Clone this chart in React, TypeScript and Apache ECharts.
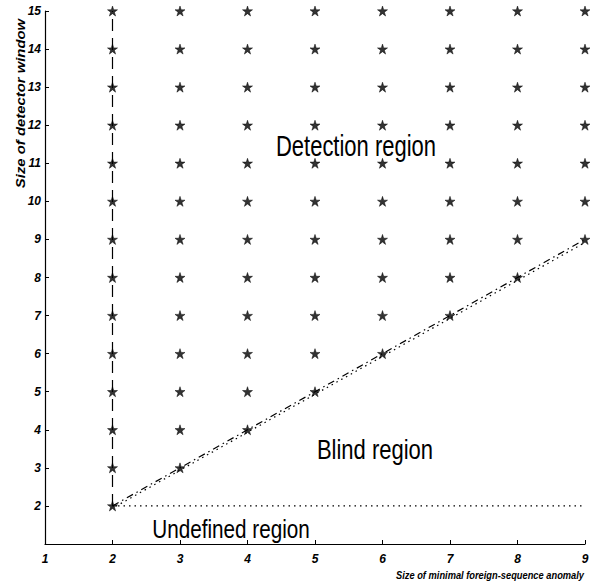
import React, { useEffect, useRef } from "react";
import * as echarts from "echarts";

const anomalySizes = [2, 3, 4, 5, 6, 7, 8, 9];
const windowSizes = [2, 3, 4, 5, 6, 7, 8, 9, 10, 11, 12, 13, 14, 15];
const xTicks = [1, 2, 3, 4, 5, 6, 7, 8, 9];
const yTicks = [1, 2, 3, 4, 5, 6, 7, 8, 9, 10, 11, 12, 13, 14, 15];
const verticalBoundary = [[2, 2], [2, 15]];
const diagonalDashDot = [[2, 2], [9, 9]];
const diagonalDotted = [[2.05, 1.99], [9, 8.92]];
const undefinedBoundary = [[2, 2], [9, 2]];

const STAR =
  "path://M50,0 L61.8,36.2 L100,36.2 L69.1,58.8 L80.9,95.1 L50,72.6 L19.1,95.1 L30.9,58.8 L0,36.2 L38.2,36.2 Z";

export default function App() {
  const ref = useRef<HTMLDivElement>(null);
  useEffect(() => {
    if (!ref.current) return;
    const chart = echarts.init(ref.current, null, { renderer: "svg" });
    const stars: number[][] = [];
    anomalySizes.forEach((a) => {
      windowSizes.forEach((w) => {
        if (w >= a) stars.push([a, w]);
      });
    });
    const labelFont = {
      fontFamily: "Liberation Sans, Arial, sans-serif",
      fontWeight: "bold" as const,
      fontStyle: "italic" as const,
      fontSize: 12,
      color: "#000",
    };
    chart.setOption({
      animation: false,
      backgroundColor: "#fff",
      grid: { left: 45, right: 8, top: 11, bottom: 38 },
      xAxis: {
        type: "value",
        min: xTicks[0],
        max: xTicks[xTicks.length - 1],
        interval: 1,
        splitLine: { show: false },
        axisLine: { show: true, lineStyle: { color: "#000", width: 1.2 } },
        axisTick: { show: true, inside: true, length: 4, lineStyle: { color: "#000" } },
        axisLabel: { ...labelFont, margin: 9 },
      },
      yAxis: {
        type: "value",
        min: yTicks[0],
        max: yTicks[yTicks.length - 1],
        interval: 1,
        splitLine: { show: false },
        axisLine: { show: true, lineStyle: { color: "#000", width: 1.2 } },
        axisTick: { show: true, inside: true, length: 4, lineStyle: { color: "#000" } },
        axisLabel: {
          ...labelFont,
          margin: 4,
          formatter: (v: number) => (v === yTicks[0] ? "" : String(v)),
        },
      },
      series: [
        {
          type: "line",
          data: verticalBoundary,
          symbol: "none",
          lineStyle: { color: "#000", width: 1.2, type: [12, 7] },
          z: 2,
        },
        {
          type: "line",
          data: diagonalDashDot,
          symbol: "none",
          lineStyle: { color: "#000", width: 1.2, type: [7, 4, 1.5, 4] },
          z: 2,
        },
        {
          type: "line",
          data: diagonalDotted,
          symbol: "none",
          lineStyle: { color: "#000", width: 1.2, type: [1.5, 4] },
          z: 2,
        },
        {
          type: "line",
          data: undefinedBoundary,
          symbol: "none",
          lineStyle: { color: "#000", width: 1.2, type: [1.5, 4] },
          z: 2,
        },
        {
          type: "scatter",
          data: stars,
          symbol: STAR,
          symbolSize: 10,
          itemStyle: { color: "#000", borderColor: "#000", borderWidth: 0.6 },
          z: 3,
        },
      ],
      graphic: [
        {
          type: "text",
          x: 356,
          y: 145.5,
          scaleY: 1.33,
          style: {
            text: "Detection region",
            font: "22px 'Liberation Sans', Arial, sans-serif",
            fill: "#000",
            align: "center",
            verticalAlign: "middle",
          },
        },
        {
          type: "text",
          x: 375,
          y: 449.7,
          scaleY: 1.23,
          style: {
            text: "Blind region",
            font: "22px 'Liberation Sans', Arial, sans-serif",
            fill: "#000",
            align: "center",
            verticalAlign: "middle",
          },
        },
        {
          type: "text",
          x: 231,
          y: 529,
          scaleY: 1.23,
          style: {
            text: "Undefined region",
            font: "20.7px 'Liberation Sans', Arial, sans-serif",
            fill: "#000",
            align: "center",
            verticalAlign: "middle",
          },
        },
        {
          type: "text",
          x: 21.5,
          y: 103.5,
          rotation: Math.PI / 2,
          scaleX: 1.24,
          style: {
            text: "Size of detector window",
            font: "italic bold 12px 'Liberation Sans', Arial, sans-serif",
            fill: "#000",
            align: "center",
            verticalAlign: "middle",
          },
        },
        {
          type: "text",
          x: 584,
          y: 575,
          scaleY: 1.2,
          style: {
            text: "Size of minimal foreign-sequence anomaly",
            font: "italic bold 9.3px 'Liberation Sans', Arial, sans-serif",
            fill: "#000",
            align: "right",
            verticalAlign: "middle",
          },
        },
      ],
    });
    return () => chart.dispose();
  }, []);
  return (
    <div
      ref={ref}
      style={{ position: "absolute", left: 0, top: 0, width: 593, height: 582, background: "#fff" }}
    />
  );
}
